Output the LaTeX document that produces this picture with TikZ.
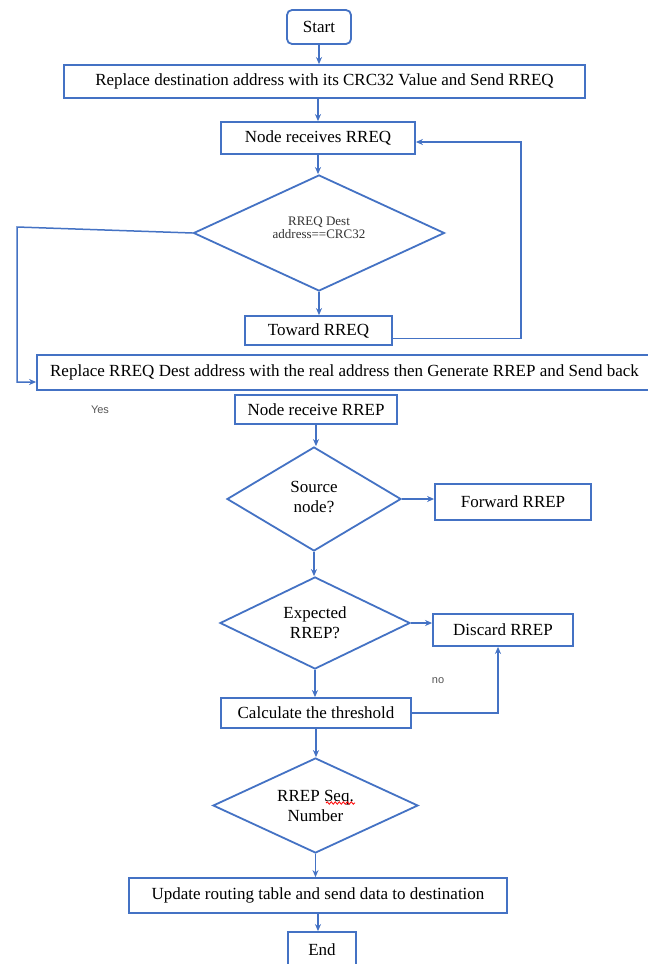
\documentclass[tikz,border=0pt]{standalone}
\usepackage{fontspec}
\setmainfont{Liberation Serif}
\newfontfamily\labelfont{Liberation Sans}
\usetikzlibrary{shapes.geometric,arrows.meta,decorations.pathmorphing}
\definecolor{lineblue}{HTML}{4472C4}
\definecolor{lblgray}{HTML}{555555}
\tikzset{
  procbox/.style={draw=lineblue, line width=1.8pt, rectangle, inner sep=0pt, align=center,
    font=\fontsize{17}{20}\selectfont},
  decbox/.style={draw=lineblue, line width=1.8pt, diamond, inner sep=0pt, aspect=1.7},
  dtext/.style={align=center, inner sep=0pt, font=\fontsize{17}{20}\selectfont},
  dsmall/.style={align=center, inner sep=0pt, text=black!80, font=\fontsize{13}{13}\selectfont},
  arr/.style={draw=lineblue, line width=1.5pt, -{Stealth[length=7pt,width=6pt]}},
  sidelabel/.style={text=lblgray, inner sep=0pt, font=\labelfont\fontsize{11}{13}\selectfont}
}
\begin{document}
\begin{tikzpicture}[x=1pt,y=-1pt]
\useasboundingbox (0,0) rectangle (648,964);
\fill[white] (0,0) rectangle (648,964);

\node[procbox, rounded corners=5pt, minimum width=64pt, minimum height=34pt] (start) at (319,27) {Start};
\node[procbox, minimum width=521pt, minimum height=33pt] (b1) at (324.5,81.5) {Replace destination address with its CRC32 Value and Send RREQ};
\node[procbox, minimum width=194pt, minimum height=32pt] (recv) at (318,138) {Node receives RREQ};
\node[decbox, minimum width=251pt, minimum height=116pt,
      label={[dsmall, yshift=5pt]center:RREQ Dest\\address==CRC32}] (d1) at (319,233) {};
\node[procbox, minimum width=147pt, minimum height=29pt] (toward) at (318.5,330.5) {Toward RREQ};
\node[procbox, minimum width=615pt, minimum height=35pt] (b2) at (344.5,372.5) {Replace RREQ Dest address with the real address then Generate RREP and Send back};
\node[procbox, minimum width=162pt, minimum height=29pt] (rrep) at (316,409.5) {Node receive RREP};
\node[decbox, minimum width=174pt, minimum height=104pt,
      label={[dtext, yshift=2pt]center:Source\\node?}] (d2) at (314,499) {};
\node[procbox, minimum width=156pt, minimum height=36pt] (fwd) at (513,502) {Forward RREP};
\node[decbox, minimum width=190pt, minimum height=92pt,
      label={[dtext]center:Expected\\RREP?}] (d3) at (315,623) {};
\node[procbox, minimum width=140pt, minimum height=32pt] (disc) at (503,630) {Discard RREP};
\node[procbox, minimum width=190pt, minimum height=30pt] (calc) at (316,713) {Calculate the threshold};
\node[decbox, minimum width=205pt, minimum height=95pt,
      label={[dtext]center:RREP Seq.\\Number}] (d4) at (315.5,805.5) {};
\node[procbox, minimum width=378pt, minimum height=35pt] (upd) at (318,895.5) {Update routing table and send data to destination};
\node[procbox, minimum width=68pt, minimum height=36pt] (end) at (322,950) {End};

\node[sidelabel] (yes) at (100,410) {Yes};
\node[sidelabel] (no) at (438,681) {no};

\coordinate (loopx) at (521,240);
\coordinate (lt) at (17,227);
\coordinate (lb) at (17,382);

\draw[arr] (start.south) -- (start.south |- b1.north);
\draw[arr] (recv.north |- b1.south) -- (recv.north);
\draw[arr] (recv.south) -- (recv.south |- d1.north);
\draw[arr] (d1.south) -- (d1.south |- toward.north);
\draw[arr] ([yshift=-8pt]toward.east) -| (loopx) |- ([yshift=-4pt]recv.east);
\draw[arr] (d1.west) -- (lt) -- (lb) -- (lb -| b2.west);
\draw[arr] (rrep.south) -- (rrep.south |- d2.north);
\draw[arr] (d2.east) -- (d2.east -| fwd.west);
\draw[arr] (d2.south) -- (d2.south |- d3.north);
\draw[arr] (d3.east) -- (d3.east -| disc.west);
\draw[arr] (d3.south) -- (d3.south |- calc.north);
\draw[arr] (calc.east) -| ([xshift=-5pt]disc.south);
\draw[arr] (calc.south) -- (calc.south |- d4.north);
\draw[arr] (d4.south) -- (d4.south |- upd.north);
\draw[arr] (upd.south) -- (upd.south |- end.north);

\draw[red, line width=0.8pt, decorate, decoration={snake, amplitude=1.2pt, segment length=4pt}] (326,803) -- (355,803);
\end{tikzpicture}
\end{document}
